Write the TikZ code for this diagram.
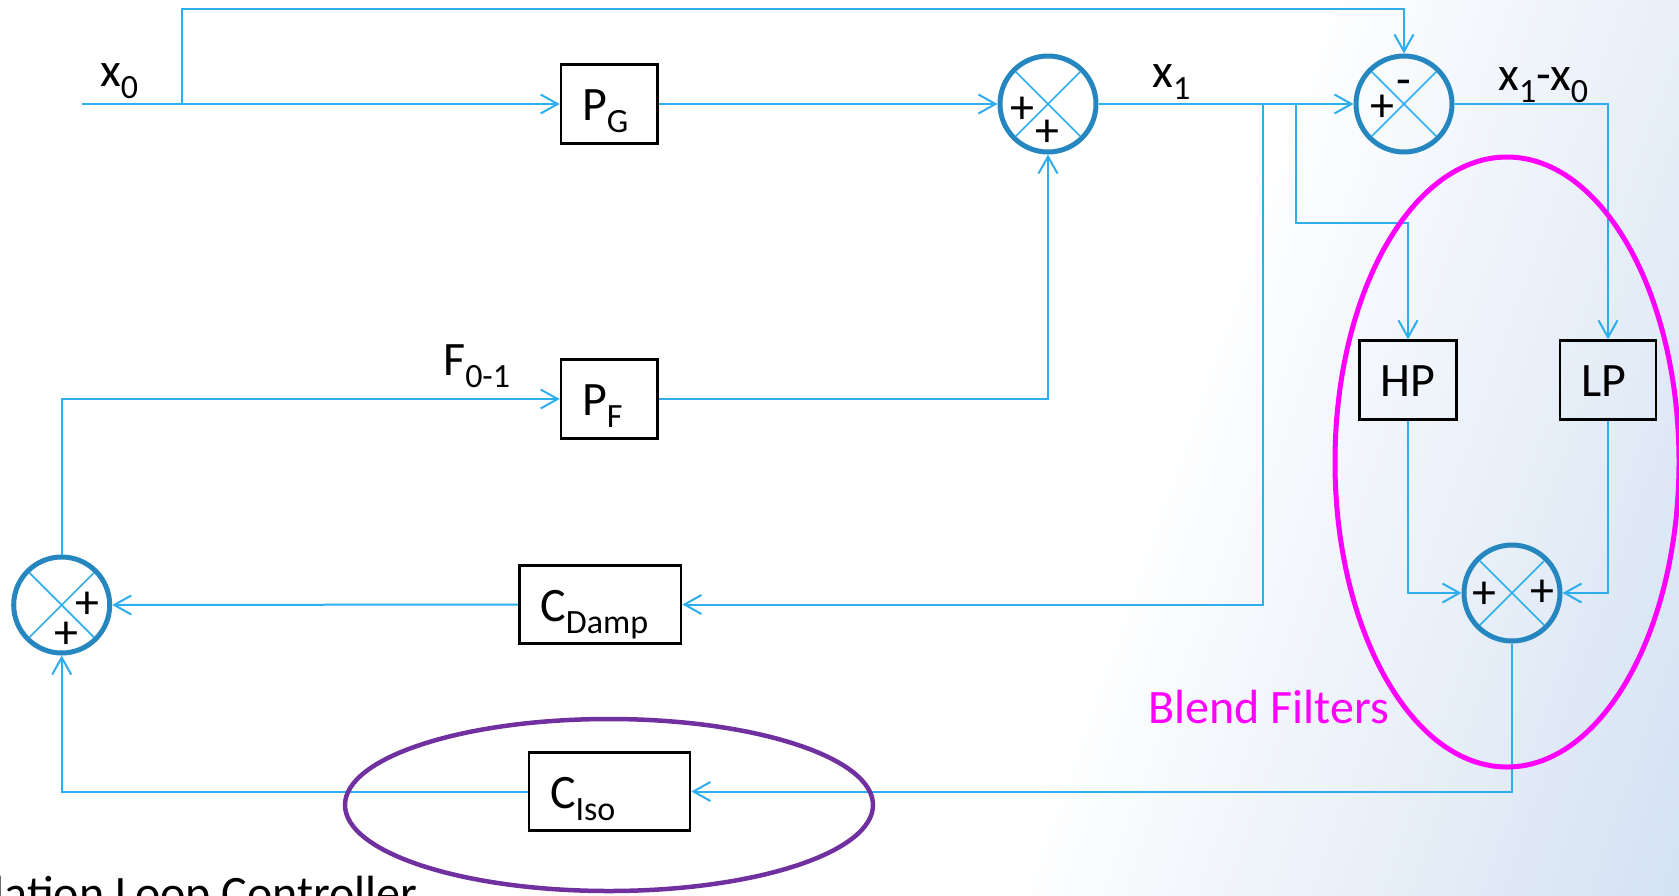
\documentclass[tikz,border=0pt]{standalone}
\usepackage{fontspec}
\setmainfont{Carlito}
\usetikzlibrary{arrows.meta,calc}
\definecolor{conncol}{RGB}{45,174,238}
\definecolor{sumcol}{RGB}{38,134,192}
\definecolor{bgblue}{RGB}{198,216,238}
\definecolor{blendcol}{RGB}{255,0,255}
\definecolor{isocol}{RGB}{112,48,160}
\newcommand\mysub[1]{\raisebox{-12pt}{\fontsize{34}{34}\selectfont #1}}
\begin{document}
\begin{tikzpicture}[x=1pt,y=-1pt,
  every node/.style={font=\fontsize{48}{56}\selectfont},
  conn/.style={draw=conncol,line width=2pt},
  arr/.style={conn,-{Straight Barb[length=17pt,width=19pt]}},
  blk/.style={draw=black,line width=2.7pt,rectangle,minimum height=78.5pt,inner xsep=21pt,inner ysep=0pt,text height=33pt,text depth=0pt,align=left},
  sumnode/.style={draw=sumcol,line width=5pt,circle,minimum size=96pt,inner sep=0pt},
  xline/.style={draw=conncol,line width=1.7pt,shorten <=5pt,shorten >=5pt},
  sign/.style={inner sep=0pt,font=\fontsize{48}{48}\selectfont},
  lbl/.style={inner sep=0pt}]
\useasboundingbox (0,0) rectangle (1679,895);
% background gradient
\begin{scope}
  \clip (0,0) rectangle (1679,895);
  \fill[white] (0,0) rectangle (1679,895);
  \begin{scope}[transform canvas={shift={(1540pt,0pt)},rotate=-19.3}]
    \shade[left color=white,right color=bgblue] (-213,-1600) rectangle (639,1600);
  \end{scope}
\end{scope}
% blocks
\node[blk, text width=54.5pt] (PG) at (609.3,104) {P\mysub{G}};
\node[blk, text width=54.5pt] (PF) at (609.3,399) {P\mysub{F}};
\node[blk, text width=119.7pt] (CD) at (600.2,604.5) {C\mysub{Damp}};
\node[blk, text width=119pt] (CI) at (609.5,791.5) {C\mysub{Iso}};
\node[blk, text width=55pt] (HP) at (1408,380) {HP};
\node[blk, text width=54pt] (LP) at (1608,380) {LP};
% summing junctions
\node[sumnode] (S1) at (1048,104) {};
\node[sumnode] (S2) at (1404,104) {};
\node[sumnode] (S3) at (1512,593) {};
\node[sumnode] (S4) at (61.7,605) {};
\foreach \s in {S1,S2,S3,S4}{
  \draw[xline] (\s.45) -- (\s.225);
  \draw[xline] (\s.135) -- (\s.315);
}
% connectors
\coordinate (in0) at (82,104);
\coordinate (b0) at (182,104);
\coordinate (t0) at (182,9);
\coordinate (b1) at (1263,104);
\coordinate (b2) at (1296,104);
\coordinate (b2d) at (1296,222.5);
\draw[arr] (in0) -- (PG.west);
\draw[arr] (b0) -- (t0) -| (S2.north);
\draw[arr] (PG.east) -- (S1.west);
\draw[arr] (S1.east) -- (S2.west);
\draw[arr] (b1) |- (CD.east);
\draw[arr] (b2) -- (b2d) -| (HP.north);
\draw[arr] (S2.east) -| (LP.north);
\draw[arr] (HP.south) |- (S3.west);
\draw[arr] (LP.south) |- (S3.east);
\draw[arr] (S3.south) |- (CI.east);
\draw[arr] (CI.west) -| (S4.south);
\draw[arr] (CD.west) -- (S4.east);
\draw[arr] (S4.north) |- (PF.west);
\draw[arr] (PF.east) -| (S1.south);
% signs
\node[sign] (s1a) at ($(S1)+(-26,6)$) {+};
\node[sign] (s1b) at ($(S1)+(-1,29.5)$) {+};
\node[sign,anchor=base] (s2a) at ($(S2)+(0,-8.6)$) {-};
\node[sign] (s2b) at ($(S2)+(-22,4)$) {+};
\node[sign] (s3a) at ($(S3)+(-28,2)$) {+};
\node[sign] (s3b) at ($(S3)+(30,0)$) {+};
\node[sign] (s4a) at ($(S4)+(26,0)$) {+};
\node[sign] (s4b) at ($(S4)+(5,30)$) {+};
% labels
\node[lbl,anchor=base west] (lx0) at (100,86.7) {x\mysub{0}};
\node[lbl,anchor=base west] (lx1) at (1152,87) {x\mysub{1}};
\node[lbl,anchor=base west] (lx10) at (1498,90.5) {x\mysub{1}-x\mysub{0}};
\node[lbl,anchor=base west] (lF) at (443,375) {F\mysub{0-1}};
% group ellipses
\draw[blendcol,line width=5pt] (1507,462) ellipse [x radius=172, y radius=305];
\draw[isocol,line width=4.5pt] (609,805) ellipse [x radius=264, y radius=86];
\node[lbl,anchor=base east,text=blendcol] (lblend) at (1389,723) {Blend Filters};
\node[lbl,anchor=base east] (liso) at (418,909) {Isolation Loop Controller};
\end{tikzpicture}
\end{document}
